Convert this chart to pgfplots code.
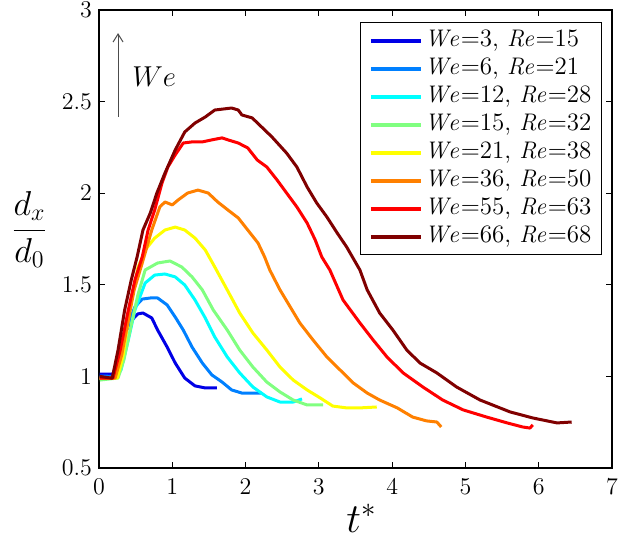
\documentclass[border=0pt]{standalone}
\usepackage{amsmath}
\usepackage{pgfplots}
\pgfplotsset{compat=1.18}
\usetikzlibrary{arrows.meta}
\definecolor{c1}{RGB}{0,0,230}
\definecolor{c2}{RGB}{0,128,255}
\definecolor{c3}{RGB}{0,255,255}
\definecolor{c4}{RGB}{128,255,128}
\definecolor{c5}{RGB}{255,255,0}
\definecolor{c6}{RGB}{255,128,0}
\definecolor{c7}{RGB}{255,0,0}
\definecolor{c8}{RGB}{128,0,0}
\begin{document}
\begin{tikzpicture}
\begin{axis}[
    scale only axis,
    width=256.5pt, height=229pt,
    xmin=0, xmax=7, ymin=0.5, ymax=3,
    xtick={0,1,...,7},
    ytick={0.5,1,1.5,2,2.5,3},
    tick align=inside,
    major tick length=3pt,
    axis line style={line width=1pt},
    tick style={line width=0.6pt, black},
    ticklabel style={font=\fontsize{13}{15}\selectfont},
    xticklabel style={yshift=-2pt},
    legend style={at={(0.9805,0.974)}, anchor=north east,
        draw=black, line width=0.6pt,
        font=\fontsize{12.5}{14}\selectfont,
        inner xsep=4pt, inner ysep=2pt,
        nodes={inner sep=1pt, text height=9pt, text depth=3pt},
        cells={anchor=west}},
    legend image code/.code={\draw[#1, line width=2pt] (0pt,0pt) -- (25pt,0pt);},
    every axis plot/.append style={line width=1.5pt, line join=round},
]
\addplot[c1] coordinates {
(0.01,1.013) (0.19,1.013) (0.26,1.09) (0.355,1.237) (0.45,1.308) (0.53,1.341)
(0.60,1.346) (0.72,1.319) (0.80,1.253) (0.93,1.160) (1.04,1.073) (1.17,0.991)
(1.31,0.948) (1.45,0.937) (1.61,0.937)};
\addlegendentry{$\mathit{We}$=3, $\mathit{Re}$=15}
\addplot[c2] coordinates {
(0.01,1.002) (0.19,1.00) (0.29,1.079) (0.38,1.264) (0.49,1.379) (0.59,1.422)
(0.70,1.428) (0.80,1.428) (0.93,1.390) (1.04,1.324) (1.15,1.253) (1.27,1.160)
(1.41,1.073) (1.54,1.008) (1.68,0.969) (1.81,0.926) (1.95,0.909) (2.09,0.909)
(2.22,0.909)};
\addlegendentry{$\mathit{We}$=6, $\mathit{Re}$=21}
\addplot[c3] coordinates {
(0.01,0.991) (0.23,0.991) (0.30,1.035) (0.40,1.199) (0.49,1.362) (0.63,1.510)
(0.76,1.553) (0.90,1.559) (1.04,1.543) (1.17,1.499) (1.31,1.417) (1.45,1.319)
(1.58,1.215) (1.75,1.106) (1.92,1.019) (2.10,0.942) (2.29,0.888) (2.47,0.860)
(2.65,0.860) (2.77,0.877)};
\addlegendentry{$\mathit{We}$=12, $\mathit{Re}$=28}
\addplot[c4] coordinates {
(0.01,0.980) (0.26,0.991) (0.34,1.090) (0.44,1.281) (0.53,1.444) (0.63,1.581)
(0.80,1.619) (0.97,1.630) (1.13,1.597) (1.27,1.543) (1.41,1.472) (1.56,1.362)
(1.75,1.253) (1.92,1.144) (2.10,1.051) (2.29,0.969) (2.47,0.915) (2.65,0.871)
(2.84,0.844) (3.06,0.844)};
\addlegendentry{$\mathit{We}$=15, $\mathit{Re}$=32}
\addplot[c5] coordinates {
(0.01,0.991) (0.25,0.991) (0.33,1.117) (0.42,1.362) (0.53,1.592) (0.63,1.690)
(0.76,1.755) (0.90,1.799) (1.04,1.815) (1.17,1.799) (1.31,1.755) (1.45,1.690)
(1.58,1.597) (1.75,1.472) (1.92,1.346) (2.10,1.237) (2.29,1.144) (2.47,1.051)
(2.65,0.980) (2.84,0.926) (3.02,0.882) (3.19,0.838) (3.38,0.828) (3.56,0.828)
(3.79,0.833)};
\addlegendentry{$\mathit{We}$=21, $\mathit{Re}$=38}
\addplot[c6] coordinates {
(0.01,0.99) (0.22,0.99) (0.31,1.117) (0.40,1.308) (0.48,1.472) (0.59,1.619)
(0.72,1.799) (0.83,1.925) (0.90,1.952) (1.00,1.936) (1.08,1.963) (1.21,2.001)
(1.35,2.017) (1.49,2.001) (1.62,1.952) (1.76,1.908) (1.90,1.865) (2.03,1.799)
(2.17,1.728) (2.26,1.652) (2.33,1.581) (2.47,1.472) (2.61,1.379) (2.74,1.292)
(2.92,1.199) (3.11,1.106) (3.29,1.035) (3.47,0.964) (3.66,0.909) (3.83,0.871)
(4.07,0.828) (4.28,0.778) (4.47,0.757) (4.61,0.751) (4.67,0.724)};
\addlegendentry{$\mathit{We}$=36, $\mathit{Re}$=50}
\addplot[c7] coordinates {
(0.01,0.99) (0.19,0.99) (0.29,1.144) (0.40,1.362) (0.49,1.526) (0.59,1.652)
(0.67,1.799) (0.76,1.908) (0.86,2.056) (0.94,2.143) (1.04,2.209) (1.15,2.274)
(1.27,2.280) (1.41,2.280) (1.54,2.291) (1.68,2.302) (1.76,2.291) (1.90,2.274)
(2.03,2.247) (2.16,2.181) (2.29,2.143) (2.43,2.072) (2.56,2.001) (2.70,1.925)
(2.84,1.837) (2.95,1.745) (3.04,1.652) (3.15,1.581) (3.33,1.417) (3.56,1.292)
(3.74,1.199) (3.93,1.106) (4.15,1.019) (4.42,0.942) (4.69,0.871) (4.97,0.817)
(5.29,0.778) (5.57,0.746) (5.78,0.724) (5.88,0.718) (5.92,0.735)};
\addlegendentry{$\mathit{We}$=55, $\mathit{Re}$=63}
\addplot[c8] coordinates {
(0.01,1.00) (0.18,0.99) (0.26,1.144) (0.35,1.362) (0.44,1.526) (0.52,1.652)
(0.60,1.799) (0.70,1.892) (0.79,2.001) (0.90,2.110) (1.04,2.236) (1.17,2.334)
(1.31,2.383) (1.45,2.416) (1.58,2.454) (1.81,2.465) (1.90,2.454) (1.95,2.427)
(2.09,2.411) (2.22,2.361) (2.36,2.307) (2.56,2.219) (2.70,2.143) (2.84,2.034)
(2.97,1.947) (3.11,1.870) (3.25,1.783) (3.38,1.706) (3.56,1.581) (3.66,1.472)
(3.83,1.346) (4.01,1.253) (4.20,1.144) (4.38,1.073) (4.61,1.019) (4.88,0.942)
(5.20,0.871) (5.61,0.806) (5.92,0.773) (6.25,0.746) (6.45,0.751)};
\addlegendentry{$\mathit{We}$=66, $\mathit{Re}$=68}
% arrow and We note
\draw[gray!60!black, line width=0.5pt, -{Straight Barb[length=4pt,width=5pt]}]
    (axis cs:0.26,2.416) -- (axis cs:0.26,2.874);
\node[anchor=west, font=\fontsize{15}{18}\selectfont] at (axis cs:0.36,2.634) {$We$};
\coordinate (sw) at (rel axis cs:0,0);
\coordinate (xl) at (rel axis cs:0.5,0);
\coordinate (yl) at (rel axis cs:0,0.52);
\end{axis}
\node[anchor=base, font=\fontsize{20}{24}\selectfont] at ([xshift=3pt,yshift=-32.5pt]xl) {$t^*$};
\node[font=\fontsize{17}{20}\selectfont] at ([xshift=-34.75pt]yl) {$\dfrac{d_x}{d_0}$};
\pgfresetboundingbox
\path[use as bounding box] ([xshift=-49.5pt,yshift=-36pt]sw) rectangle ++(309pt,270pt);
\end{tikzpicture}
\end{document}
